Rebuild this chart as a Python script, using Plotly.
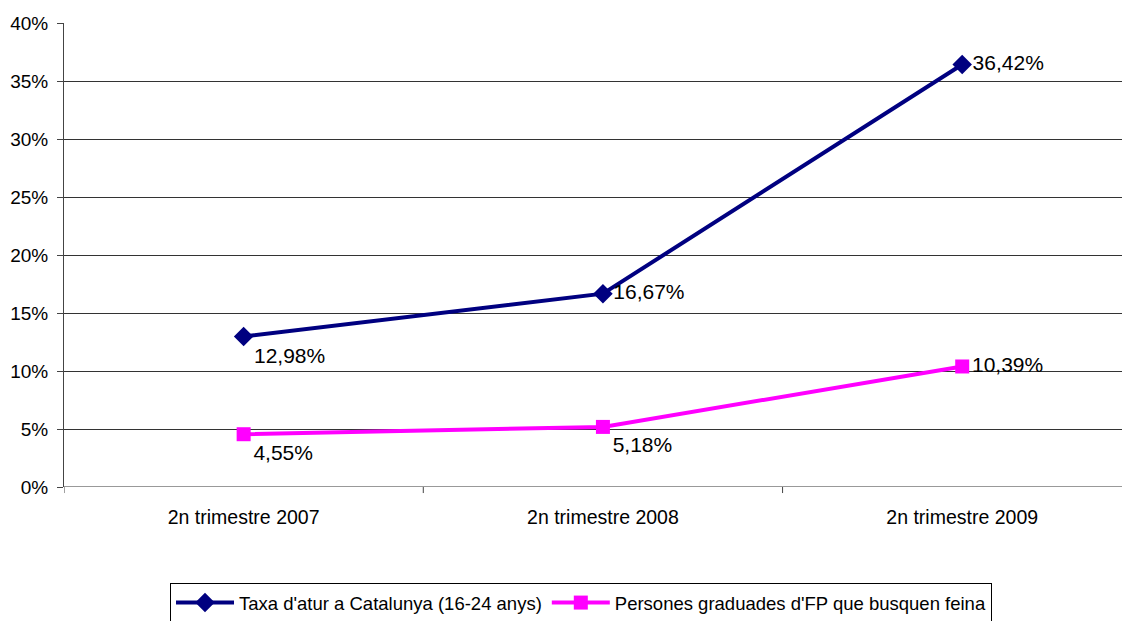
import plotly.graph_objects as go

categories = ["2n trimestre 2007", "2n trimestre 2008", "2n trimestre 2009"]
taxa_atur = [12.98, 16.67, 36.42]
graduats_fp = [4.55, 5.18, 10.39]
y_ticks = [0, 5, 10, 15, 20, 25, 30, 35, 40]
y_tick_labels = ["0%", "5%", "10%", "15%", "20%", "25%", "30%", "35%", "40%"]


def fmt(v):
    return f"{v:.2f}".replace(".", ",") + "%"


x_idx = list(range(len(categories)))

fig = go.Figure()
fig.add_trace(go.Scatter(
    x=x_idx, y=taxa_atur, mode="lines+markers+text",
    name="Taxa d'atur a Catalunya (16-24 anys)",
    line=dict(color="#000080", width=4),
    marker=dict(symbol="diamond", size=15, color="#000080"),
    text=[fmt(v) for v in taxa_atur],
    textposition=["bottom right", "middle right", "middle right"],
    textfont=dict(size=21, color="black"),
))
fig.add_trace(go.Scatter(
    x=x_idx, y=graduats_fp, mode="lines+markers+text",
    name="Persones graduades d'FP que busquen feina",
    line=dict(color="#FF00FF", width=4),
    marker=dict(symbol="square", size=14, color="#FF00FF"),
    text=[fmt(v) for v in graduats_fp],
    textposition=["bottom right", "bottom right", "middle right"],
    textfont=dict(size=21, color="black"),
))

# page body has an 8px margin, so the margins here are 8px smaller
fig.update_layout(
    width=1130, height=621,
    margin=dict(l=56, r=8, t=15, b=142, autoexpand=False),
    paper_bgcolor="white", plot_bgcolor="white",
    font=dict(family="Liberation Sans, Arial", size=19, color="black"),
    showlegend=True,
    legend=dict(
        orientation="h", x=0.485, xanchor="center", y=-0.207, yanchor="top",
        bordercolor="black", borderwidth=1, font=dict(size=18.5),
        itemwidth=58, tracegroupgap=0,
    ),
)
# the plot area runs past the right edge of the window in the reference
fig.update_xaxes(
    range=[-0.5, 2.467], tickvals=x_idx, ticktext=categories,
    showgrid=False, zeroline=False, showline=False, automargin=False,
    tickfont=dict(size=19.5), ticklabelstandoff=16,
)
fig.update_yaxes(
    range=[0, 40], tickvals=y_ticks, ticktext=y_tick_labels,
    showgrid=True, gridcolor="#333333", gridwidth=1,
    showline=True, linecolor="#444444", linewidth=1,
    ticks="outside", ticklen=6, tickcolor="#444444",
    zeroline=False, automargin=False, tickfont=dict(size=19),
    ticklabelstandoff=5,
)

# category separator ticks on the x axis
for xv in [-0.5, 0.5, 1.5]:
    fig.add_shape(type="line", xref="x", yref="paper", x0=xv, x1=xv,
                  y0=0, y1=-0.013, line=dict(color="#444444", width=1))
fig.add_shape(type="line", xref="paper", yref="y", x0=0, x1=1, y0=0, y1=0,
              line=dict(color="#333333", width=1))

fig.write_html("out.html")
